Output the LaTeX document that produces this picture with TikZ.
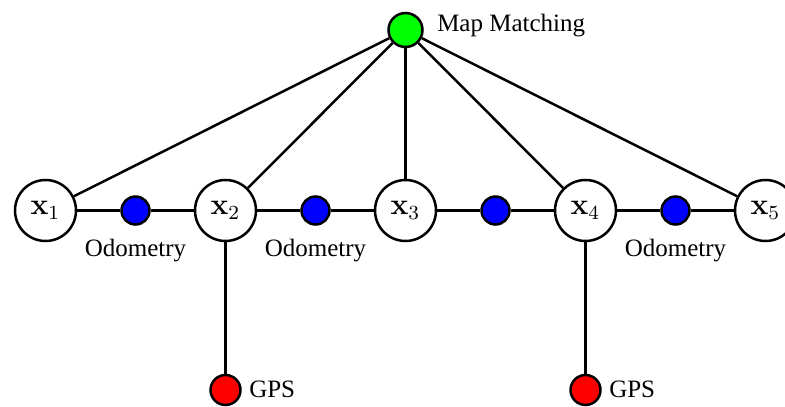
\documentclass[tikz,border=0pt]{standalone}
\usepackage[no-math]{fontspec}
\setmainfont{Liberation Serif}
\begin{document}
\begin{tikzpicture}[x=0.4pt,y=-0.4pt,
  every path/.style={line width=1pt},
  state/.style={circle,draw,line width=1pt,fill=white,inner sep=0pt,minimum size=24.4pt,font=\large},
  odom/.style={circle,draw,line width=1pt,fill=blue,inner sep=0pt,minimum size=11.2pt},
  mapm/.style={circle,draw,line width=1pt,fill=green,inner sep=0pt,minimum size=13.6pt},
  gps/.style={circle,draw,line width=1pt,fill=red,inner sep=0pt,minimum size=12pt},
  lbl/.style={inner sep=0pt,font=\normalsize}]
\useasboundingbox (0,0) rectangle (785,406);
% pose states
\node[state] (x1) at (45.5,210.5) {$\mathbf{x}_1$};
\node[state] (x2) at (225.5,210.5) {$\mathbf{x}_2$};
\node[state] (x3) at (405.5,210.5) {$\mathbf{x}_3$};
\node[state] (x4) at (585.5,210.5) {$\mathbf{x}_4$};
\node[state] (x5) at (765.5,210.5) {$\mathbf{x}_5$};
% odometry factors
\node[odom] (o1) at (135.5,210.5) {};
\node[odom] (o2) at (315.5,210.5) {};
\node[odom] (o3) at (495.5,210.5) {};
\node[odom] (o4) at (675.5,210.5) {};
% map matching factor
\node[mapm] (mm) at (405.5,30) {};
% GPS factors
\node[gps] (g1) at (225.5,390) {};
\node[gps] (g2) at (585.5,390) {};
% connectors
\draw (x1) -- (o1) -- (x2) -- (o2) -- (x3) -- (o3) -- (x4) -- (o4) -- (x5);
\foreach \n in {x1,x2,x3,x4,x5} \draw (mm) -- (\n);
\draw (x2) -- (g1);
\draw (x4) -- (g2);
% labels
\node[lbl,anchor=base west] (tmm) at (436,32) {Map Matching};
\node[lbl,anchor=base] (to1) at (135.5,256) {Odometry};
\node[lbl,anchor=base] (to2) at (315.5,256) {Odometry};
\node[lbl,anchor=base] (to4) at (675.5,256) {Odometry};
\node[lbl,anchor=base west] (tg1) at (248,397) {GPS};
\node[lbl,anchor=base west] (tg2) at (608,397) {GPS};
\end{tikzpicture}
\end{document}
